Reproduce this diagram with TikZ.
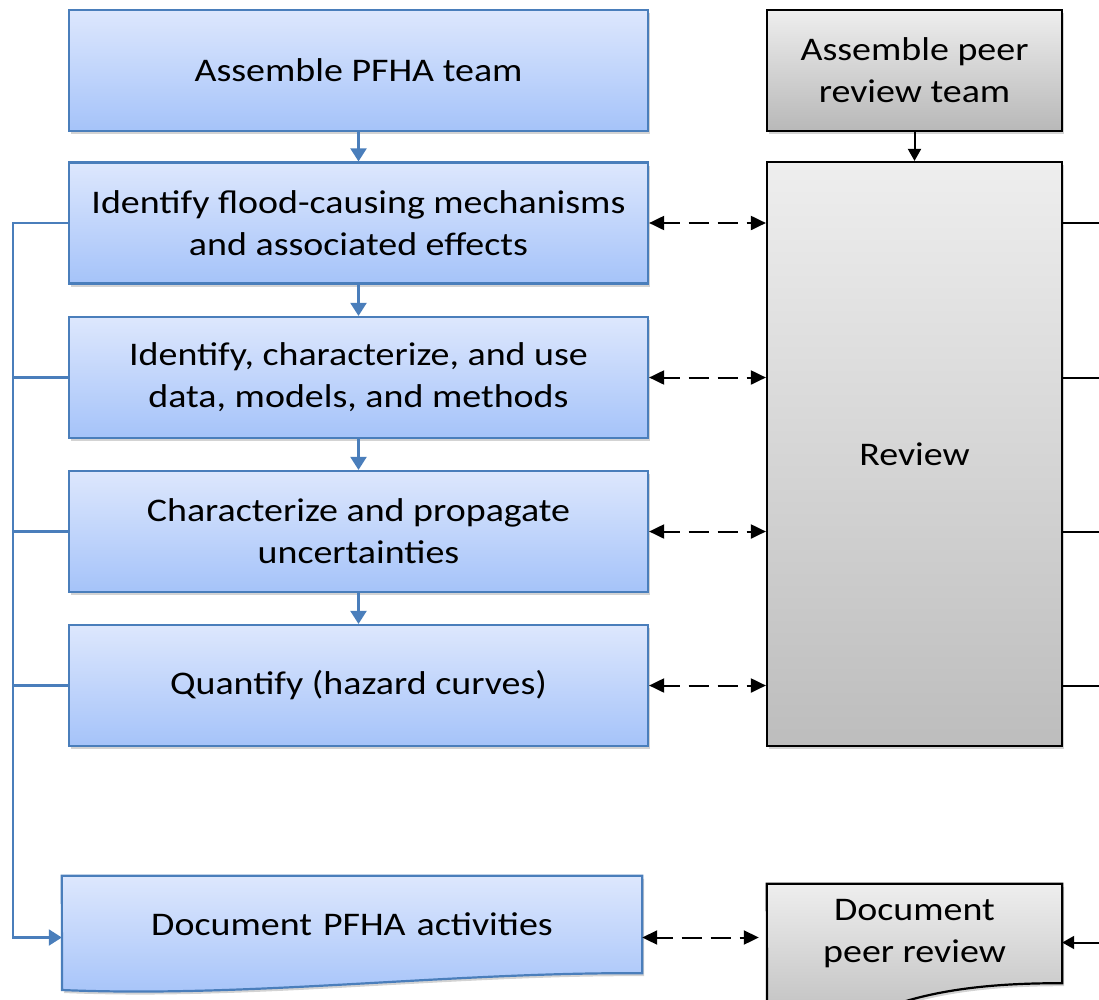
\documentclass[tikz,border=0pt]{standalone}
\usepackage{fontspec}
\setmainfont{Carlito}[FakeStretch=1.15]
\usetikzlibrary{arrows.meta}
\usetikzlibrary{positioning}
\usetikzlibrary{shadows}
\definecolor{taskline}{HTML}{4A7EBB}
\definecolor{tasktop}{HTML}{DDE7FD}
\definecolor{taskbot}{HTML}{A5C3F9}
\definecolor{peertop}{HTML}{EEEEEE}
\definecolor{peerbot}{HTML}{B8B8B8}
\definecolor{reviewbot}{HTML}{BDBDBD}
\tikzset{boxshadow/.style = {drop shadow={opacity=0.35, shadow xshift=2pt, shadow yshift=-3pt}}}
\tikzset{task/.style = {rectangle, draw=taskline, line width=2.2pt,
                        top color=tasktop, bottom color=taskbot, boxshadow,
                        minimum width=579pt, minimum height=121pt,
                        align=center, font=\fontsize{33}{42}\selectfont}}
\tikzset{peer/.style = {rectangle, draw=black, line width=2.2pt,
                        top color=peertop, bottom color=peerbot, boxshadow,
                        minimum width=295pt, minimum height=121pt,
                        align=center, font=\fontsize{33}{42}\selectfont}}
\tikzset{docbox/.style = {rectangle, minimum height=97pt,
                          align=center, font=\fontsize{33}{42}\selectfont}}
\tikzset{flow/.style = {draw=taskline, line width=2.2pt, -{Triangle[width=16pt,length=13pt]}}}
\tikzset{rail/.style = {draw=taskline, line width=2.2pt}}
\tikzset{link/.style = {draw=black, line width=2pt, dash pattern=on 20pt off 9pt, dash phase=4pt,
                        {Triangle[width=14pt,length=15pt]}-{Triangle[width=14pt,length=15pt]}}}
\tikzset{feed/.style = {draw=black, line width=2pt}}

\begin{document}
\begin{tikzpicture}[x=1pt, y=-1pt]
  \useasboundingbox (0,0) rectangle (1099,999);
  \clip (0,0) rectangle (1099,999);
  % analysis steps
  \node[task] (team) at (358.5,70.5) {Assemble PFHA team};
  \node[task] (mech) at (358.5,223) {Identify flood-causing mechanisms\\and associated effects};
  \node[task] (data) at (358.5,377.5) {Identify, characterize, and use\\data, models, and methods};
  \node[task] (unc) at (358.5,531.5) {Characterize and propagate\\uncertainties};
  \node[task] (quant) at (358.5,685.5) {Quantify (hazard curves)};
  % peer review
  \node[peer] (peerteam) at (914.5,70.5) {Assemble peer\\review team};
  \node[peer, bottom color=reviewbot, minimum height=584pt] (review) at (914.5,454) {Review};
  % documentation
  \node[docbox, minimum width=580pt] (pdoc) at (352,924.5) {};
  \shade[boxshadow, top color=tasktop, bottom color=taskbot, draw=taskline, line width=2.2pt]
    (pdoc.north west) -- (pdoc.north east) -- (pdoc.south east)
    .. controls (450,972) and (250,998) .. (62,990) -- cycle;
  \node[docbox, text width=580pt] at (pdoc) {Document PFHA activities};
  \node[docbox, minimum width=295pt, minimum height=99pt] (rdoc) at (914.5,933.5) {};
  \shade[boxshadow, top color=peertop, bottom color=reviewbot, draw=black, line width=2.2pt]
    (rdoc.north west) -- (rdoc.north east) -- (rdoc.south east)
    .. controls (990,983) and (930,990) .. (880,1010) -- (767,1030) -- cycle;
  \node[docbox] at (rdoc) {Document\\peer review};

  \foreach \a/\b in {team/mech, mech/data, data/unc, unc/quant}
    \draw[flow] (\a) -- (\b);
  \draw[feed, -{Triangle[width=13pt,length=12pt]}] (peerteam) -- (review);

  % left rail to documentation
  \coordinate (railtop) at (13,223);
  \draw[flow] (mech.west) -- (railtop) |- ([yshift=-13pt]pdoc.west);
  \foreach \n in {data, unc, quant}
    \draw[rail] (\n.west) -- (railtop |- \n.west);

  % exchanges with review
  \coordinate (edge) at (1099,0);
  \foreach \n in {mech, data, unc, quant} {
    \draw[link] (\n.east) -- (review.west |- \n.east);
    \draw[feed] (review.east |- \n.east) -- (edge |- \n.east);
  }
  \draw[link, shorten >=8pt] ([yshift=-13pt]pdoc.east) -- ([yshift=-13pt]pdoc.east -| rdoc.west);
  \draw[feed, -{Triangle[width=13pt,length=12pt]}] ([yshift=-9pt]rdoc.east -| edge) -- ([yshift=-9pt]rdoc.east);
\end{tikzpicture}
\end{document}
